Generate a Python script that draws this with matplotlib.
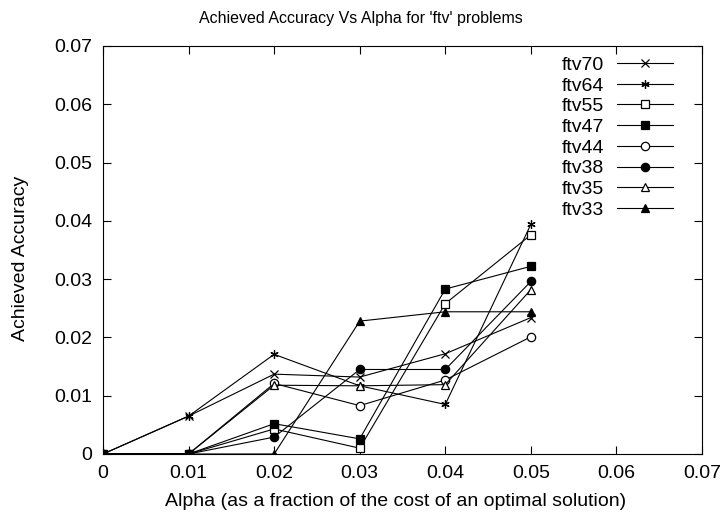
import matplotlib
matplotlib.use("Agg")
import matplotlib.pyplot as plt

plt.rcParams['font.family'] = ['Liberation Sans', 'DejaVu Sans']

alpha = [0, 0.01, 0.02, 0.03, 0.04, 0.05]

ftv70 = [0, 0.0065, 0.0137, 0.0132, 0.0172, 0.0234]
ftv64 = [0, 0.0065, 0.0171, 0.0117, 0.0085, 0.0394]
ftv55 = [0, 0, 0.0043, 0.0010, 0.0258, 0.0376]
ftv47 = [0, 0, 0.0052, 0.0026, 0.0283, 0.0322]
ftv44 = [0, 0, 0.0121, 0.0083, 0.0127, 0.0201]
ftv38 = [0, 0, 0.0029, 0.0145, 0.0145, 0.0296]
ftv35 = [0, 0, 0.0118, 0.0117, 0.0119, 0.0282]
ftv33 = [0, 0, 0, 0.0228, 0.0244, 0.0244]

names = ["ftv70", "ftv64", "ftv55", "ftv47", "ftv44", "ftv38", "ftv35", "ftv33"]
series = [ftv70, ftv64, ftv55, ftv47, ftv44, ftv38, ftv35, ftv33]
ticks = [0, 0.01, 0.02, 0.03, 0.04, 0.05, 0.06, 0.07]
tick_labels = ["0", "0.01", "0.02", "0.03", "0.04", "0.05", "0.06", "0.07"]

# gnuplot-ish point types
markers = ["x", (6, 2, 0), "s", "s", "o", "o", "^", "^"]
filled = [True, True, False, True, False, True, False, True]

fig = plt.figure(figsize=(7.22, 5.20), dpi=100)
ax = fig.add_axes([103 / 722, 1 - 454 / 520, 599 / 722, 408 / 520])

for name, ys, m, f in zip(names, series, markers, filled):
    ax.plot(alpha, ys, color="black", lw=0.8, marker=m, markersize=6,
            markeredgewidth=0.9, markeredgecolor="black",
            markerfacecolor="black" if f else "white", label=name)

ax.set_xlim(0, 0.07)
ax.set_ylim(0, 0.07)
ax.set_xticks(ticks)
ax.set_xticklabels(tick_labels)
ax.set_yticks(ticks)
ax.set_yticklabels(tick_labels)
ax.tick_params(direction="in", length=6, width=0.8, top=True, right=True,
               labelsize=14, pad=8)
for s in ax.spines.values():
    s.set_linewidth(0.8)

ax.set_xlabel("Alpha (as a fraction of the cost of an optimal solution)", fontsize=14, labelpad=6)
ax.xaxis.set_label_coords(0.488, -0.095)
ax.set_ylabel("Achieved Accuracy", fontsize=14)
ax.yaxis.set_label_coords(-0.124, 0.48)
fig.text(0.5, 1 - 18 / 520, "Achieved Accuracy Vs Alpha for 'ftv' problems",
         fontsize=11.5, ha="center", va="center")

ax.legend(loc="upper right", bbox_to_anchor=(0.952, 0.975), frameon=False,
          markerfirst=False, fontsize=14, labelspacing=0.16, handlelength=2.9,
          handletextpad=0.65, borderpad=0, borderaxespad=0)

fig.savefig("out.png", dpi=100)
